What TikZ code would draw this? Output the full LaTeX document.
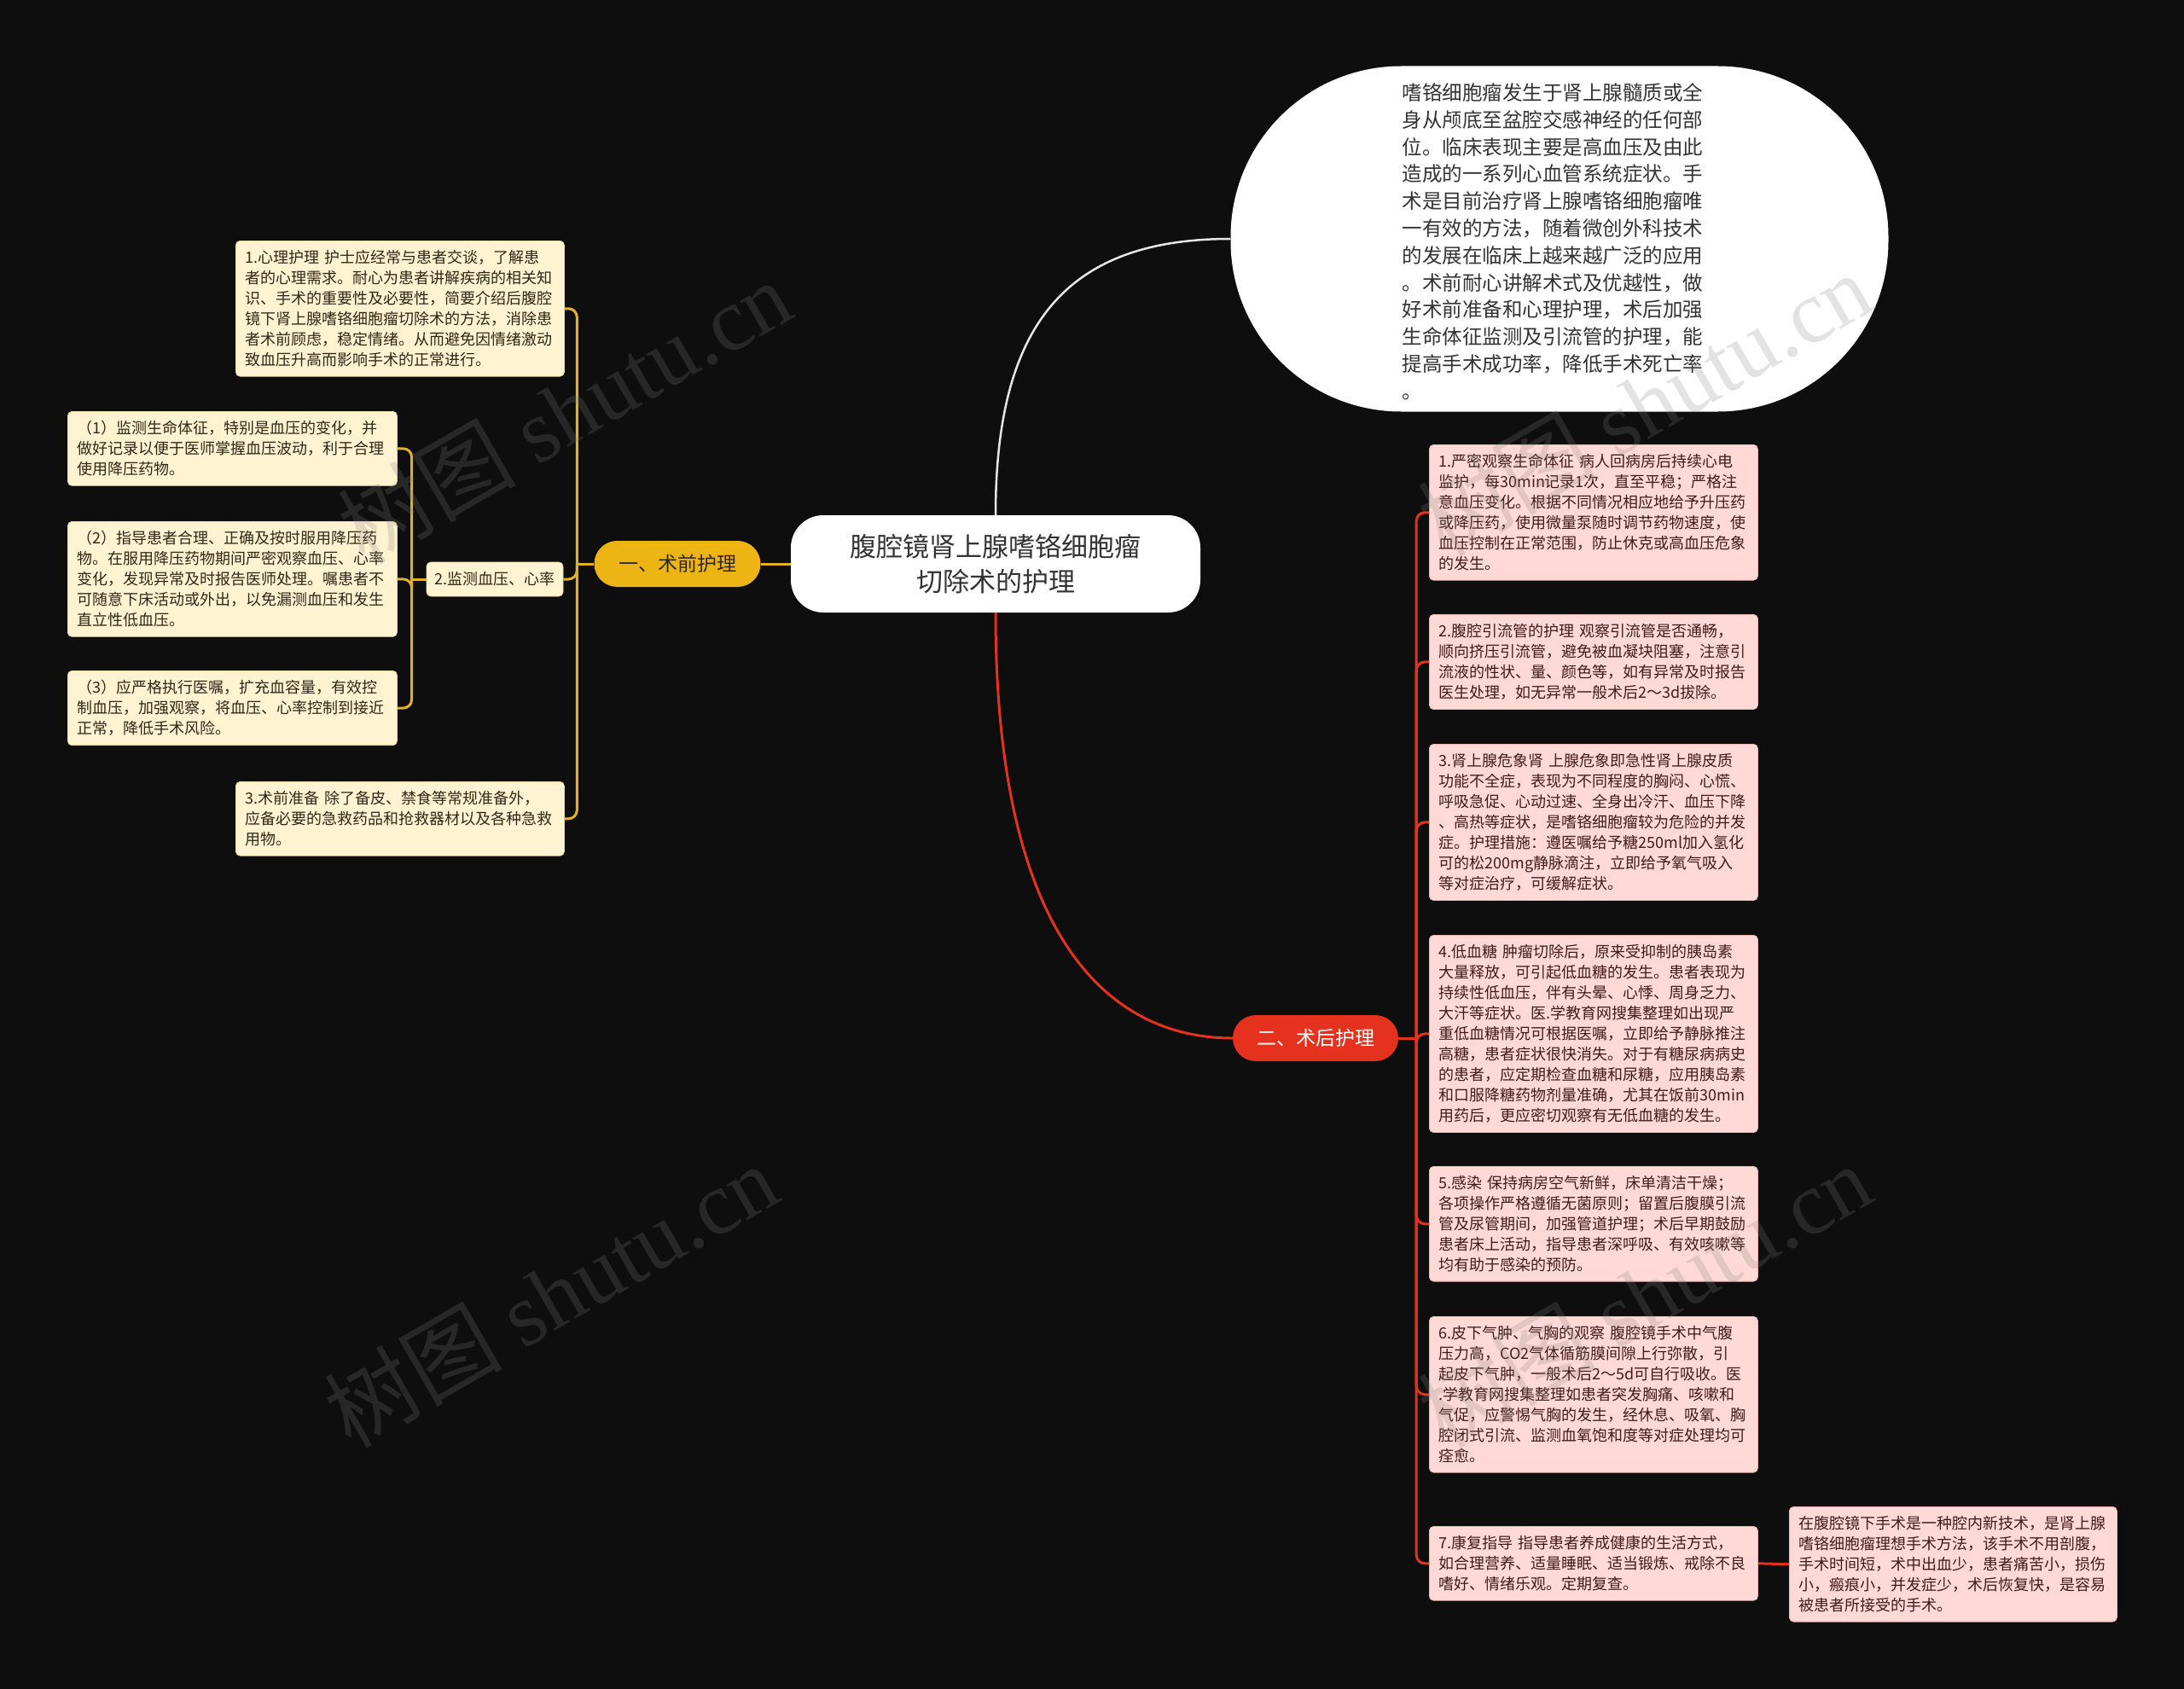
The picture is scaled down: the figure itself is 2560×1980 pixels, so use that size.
\documentclass[tikz,border=0pt]{standalone}
\usepackage{fontspec}
\setmainfont{Noto Sans CJK SC}
\newfontfamily\wmfont{Liberation Serif}
\definecolor{bg}{HTML}{0E0E0E}
\definecolor{ylw}{HTML}{EDB514}
\definecolor{ylwline}{HTML}{E3B02A}
\definecolor{redc}{HTML}{E5321F}
\definecolor{cream}{HTML}{FFF3D1}
\definecolor{creamb}{HTML}{EBDAA8}
\definecolor{pink}{HTML}{FFD9D5}
\definecolor{pinkb}{HTML}{F0B8B2}
\definecolor{ltext}{HTML}{2E2818}
\definecolor{rtext}{HTML}{3F1C1A}
\definecolor{dtext}{HTML}{333333}
\definecolor{wline}{HTML}{E6E6E6}
\tikzset{
  lbox/.style={draw=creamb, fill=cream, line width=0.8pt, rounded corners=5pt, text=ltext,
    align=left, inner xsep=11pt, inner ysep=11pt, anchor=north west,
    font=\fontsize{18}{24}\selectfont},
  rbox/.style={draw=pinkb, fill=pink, line width=0.8pt, rounded corners=5pt, text=rtext,
    align=left, inner xsep=11pt, inner ysep=11pt, anchor=north west, text width=363pt,
    font=\fontsize{18}{24}\selectfont},
  lmid/.style={draw=creamb, fill=cream, line width=0.8pt, rounded corners=5pt, text=ltext,
    minimum width=160pt, minimum height=40pt, inner sep=0pt,
    font=\fontsize{18}{24}\selectfont},
  cnode/.style={fill=white, rounded corners=38pt, minimum width=480pt, minimum height=114pt,
    align=center, text=dtext, font=\fontsize{31}{41}\selectfont, inner sep=0pt},
  bone/.style={fill=ylw, rounded corners=27pt, minimum width=195pt, minimum height=54pt,
    text=ltext, font=\fontsize{23}{28}\selectfont, inner sep=0pt},
  btwo/.style={fill=redc, rounded corners=27pt, minimum width=194pt, minimum height=54pt,
    text=white, font=\fontsize{23}{28}\selectfont, inner sep=0pt},
  ovalnode/.style={fill=white, rounded corners=200pt, minimum width=771pt, minimum height=405pt,
    inner sep=0pt},
  ovaltext/.style={align=left, text=dtext, font=\fontsize{23.5}{31.8}\selectfont, inner sep=0pt},
  yline/.style={draw=ylwline, line width=3pt},
  rline/.style={draw=redc, line width=3pt},
  wconn/.style={draw=wline, line width=2.5pt},
  wm/.style={text=gray, opacity=0.22, rotate=30, font=\fontsize{105}{110}\selectfont}
}
\begin{document}
\begin{tikzpicture}[x=1pt,y=-1pt]
\fill[bg] (0,0) rectangle (2560,1980);
\useasboundingbox (0,0) rectangle (2560,1980);

% center and main branches
\node[cnode] (c) at (1167,661) {腹腔镜肾上腺嗜铬细胞瘤\\切除术的护理};
\node[bone] (b1) at (794,661) {一、术前护理};
\node[btwo] (b2) at (1542,1217) {二、术后护理};
\node[ovalnode] (ov) at (1828,280) {};
\node[ovaltext] (ovt) at (1820,283) {嗜铬细胞瘤发生于肾上腺髓质或全\\身从颅底至盆腔交感神经的任何部\\位。临床表现主要是高血压及由此\\造成的一系列心血管系统症状。手\\术是目前治疗肾上腺嗜铬细胞瘤唯\\一有效的方法，随着微创外科技术\\的发展在临床上越来越广泛的应用\\。术前耐心讲解术式及优越性，做\\好术前准备和心理护理，术后加强\\生命体征监测及引流管的护理，能\\提高手术成功率，降低手术死亡率\\。};

% left side
\node[lbox, text width=363pt] (L1) at (276,282) {1.心理护理 护士应经常与患者交谈，了解患\\者的心理需求。耐心为患者讲解疾病的相关知\\识、手术的重要性及必要性，简要介绍后腹腔\\镜下肾上腺嗜铬细胞瘤切除术的方法，消除患\\者术前顾虑，稳定情绪。从而避免因情绪激动\\致血压升高而影响手术的正常进行。};
\node[lmid] (L2) at (580,679) {2.监测血压、心率};
\node[lbox, text width=364pt] (L2a) at (79,482) {（1）监测生命体征，特别是血压的变化，并\\做好记录以便于医师掌握血压波动，利于合理\\使用降压药物。};
\node[lbox, text width=364pt] (L2b) at (79,611) {（2）指导患者合理、正确及按时服用降压药\\物。在服用降压药物期间严密观察血压、心率\\变化，发现异常及时报告医师处理。嘱患者不\\可随意下床活动或外出，以免漏测血压和发生\\直立性低血压。};
\node[lbox, text width=364pt] (L2c) at (79,786) {（3）应严格执行医嘱，扩充血容量，有效控\\制血压，加强观察，将血压、心率控制到接近\\正常，降低手术风险。};
\node[lbox, text width=363pt] (L3) at (276,916) {3.术前准备 除了备皮、禁食等常规准备外，\\应备必要的急救药品和抢救器材以及各种急救\\用物。};

% right side
\node[rbox] (R1) at (1675,521) {1.严密观察生命体征 病人回病房后持续心电\\监护，每30min记录1次，直至平稳；严格注\\意血压变化。根据不同情况相应地给予升压药\\或降压药，使用微量泵随时调节药物速度，使\\血压控制在正常范围，防止休克或高血压危象\\的发生。};
\node[rbox] (R2) at (1675,720) {2.腹腔引流管的护理 观察引流管是否通畅，\\顺向挤压引流管，避免被血凝块阻塞，注意引\\流液的性状、量、颜色等，如有异常及时报告\\医生处理，如无异常一般术后2～3d拔除。};
\node[rbox] (R3) at (1675,872) {3.肾上腺危象肾 上腺危象即急性肾上腺皮质\\功能不全症，表现为不同程度的胸闷、心慌、\\呼吸急促、心动过速、全身出冷汗、血压下降\\、高热等症状，是嗜铬细胞瘤较为危险的并发\\症。护理措施：遵医嘱给予糖250ml加入氢化\\可的松200mg静脉滴注，立即给予氧气吸入\\等对症治疗，可缓解症状。};
\node[rbox] (R4) at (1675,1096) {4.低血糖 肿瘤切除后，原来受抑制的胰岛素\\大量释放，可引起低血糖的发生。患者表现为\\持续性低血压，伴有头晕、心悸、周身乏力、\\大汗等症状。医.学教育网搜集整理如出现严\\重低血糖情况可根据医嘱，立即给予静脉推注\\高糖，患者症状很快消失。对于有糖尿病病史\\的患者，应定期检查血糖和尿糖，应用胰岛素\\和口服降糖药物剂量准确，尤其在饭前30min\\用药后，更应密切观察有无低血糖的发生。};
\node[rbox] (R5) at (1675,1367) {5.感染 保持病房空气新鲜，床单清洁干燥；\\各项操作严格遵循无菌原则；留置后腹膜引流\\管及尿管期间，加强管道护理；术后早期鼓励\\患者床上活动，指导患者深呼吸、有效咳嗽等\\均有助于感染的预防。};
\node[rbox] (R6) at (1675,1543) {6.皮下气肿、气胸的观察 腹腔镜手术中气腹\\压力高，CO2气体循筋膜间隙上行弥散，引\\起皮下气肿，一般术后2～5d可自行吸收。医\\.学教育网搜集整理如患者突发胸痛、咳嗽和\\气促，应警惕气胸的发生，经休息、吸氧、胸\\腔闭式引流、监测血氧饱和度等对症处理均可\\痊愈。};
\node[rbox] (R7) at (1675,1789) {7.康复指导 指导患者养成健康的生活方式，\\如合理营养、适量睡眠、适当锻炼、戒除不良\\嗜好、情绪乐观。定期复查。};
\node[rbox, text width=362pt] (R8) at (2097,1766) {在腹腔镜下手术是一种腔内新技术，是肾上腺\\嗜铬细胞瘤理想手术方法，该手术不用剖腹，\\手术时间短，术中出血少，患者痛苦小，损伤\\小，瘢痕小，并发症少，术后恢复快，是容易\\被患者所接受的手术。};

% connectors
\draw[wconn] (c.north) .. controls (1167,380) and (1250,280) .. (ov.west);
\draw[rline] (c.south) .. controls (1167,1100) and (1300,1217) .. (b2.west);
\draw[yline] (c.west) -- (b1.east);

\draw[yline] (b1.west) -- ++(-20,0) coordinate (jL);
\foreach \n in {L1,L2,L3} \draw[yline, rounded corners=10pt] (\n.east) -| (jL);
\draw[yline] (L2.west) -- ++(-17,0) coordinate (jM);
\foreach \n in {L2a,L2b,L2c} \draw[yline, rounded corners=10pt] (\n.east) -| (jM);

\draw[rline] (b2.east) -- ++(21,0) coordinate (jR);
\foreach \n in {R1,R2,R3,R4,R5,R6,R7} \draw[rline, rounded corners=10pt] (\n.west) -| (jR);
\draw[rline] (R7.east) -- (R8.west);

% watermarks
\foreach \p in {{(661,482)},{(645,1518)},{(1927,473)},{(1927,1518)}}
  \node[wm] at \p {树图 {\wmfont shutu.cn}};
\end{tikzpicture}
\end{document}
